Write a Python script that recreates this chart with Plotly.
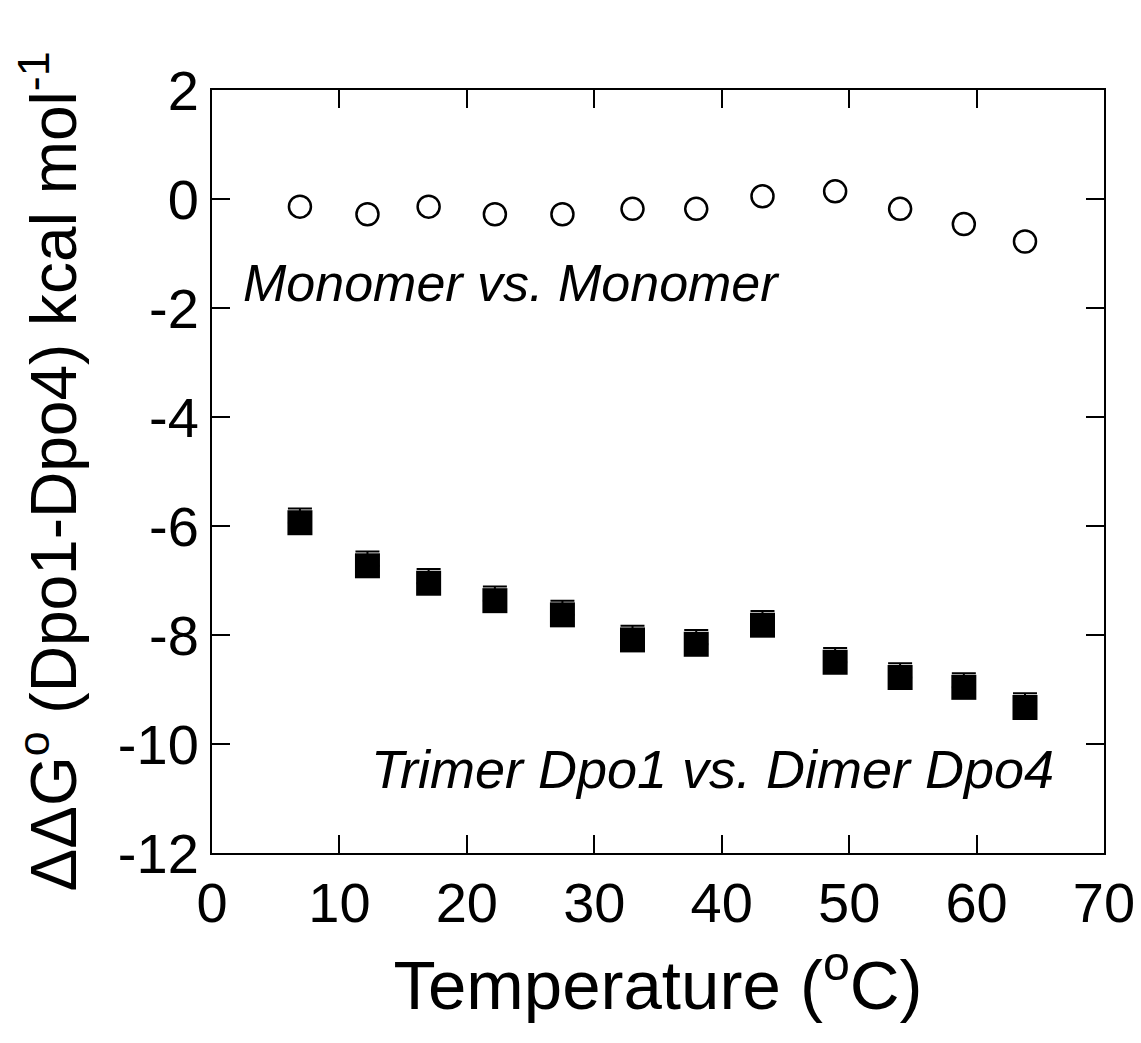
import plotly.graph_objects as go

temperature = [6.9, 12.2, 17.0, 22.2, 27.5, 33.0, 38.0, 43.2, 48.9, 54.0, 59.0, 63.8]
monomer_ddg = [-0.14, -0.28, -0.14, -0.28, -0.28, -0.18, -0.18, 0.05, 0.14, -0.18, -0.46, -0.78]
trimer_ddg = [-5.94, -6.73, -7.05, -7.37, -7.63, -8.09, -8.17, -7.82, -8.50, -8.78, -8.96, -9.33]
trimer_err = [0.26] * 12

x_ticks = [0, 10, 20, 30, 40, 50, 60, 70]
y_ticks = [2, 0, -2, -4, -6, -8, -10, -12]

FONT = "Liberation Sans, Arial, sans-serif"

fig = go.Figure()
fig.add_trace(go.Scatter(
    x=temperature, y=trimer_ddg, mode="markers",
    marker=dict(symbol="square", size=25, color="black", line=dict(width=0)),
    error_y=dict(type="data", symmetric=False, array=trimer_err, arrayminus=[0] * 12,
                 color="black", thickness=2, width=12),
    showlegend=False,
))
fig.add_trace(go.Scatter(
    x=temperature, y=monomer_ddg, mode="markers",
    marker=dict(symbol="circle-open", size=22, color="black", line=dict(width=2.5, color="black")),
    showlegend=False,
))

fig.add_annotation(x=2.3, y=-1.55, xref="x", yref="y", text="<i>Monomer vs. Monomer</i>",
                   showarrow=False, xanchor="left", yanchor="middle",
                   font=dict(family=FONT, size=52, color="black"))
fig.add_annotation(x=12.3, y=-10.46, xref="x", yref="y", text="<i>Trimer Dpo1 vs. Dimer Dpo4</i>",
                   showarrow=False, xanchor="left", yanchor="middle",
                   font=dict(family=FONT, size=54, color="black"))

axis_common = dict(
    showline=True, linecolor="black", linewidth=2, mirror="ticks",
    ticks="inside", ticklen=18, tickwidth=2, tickcolor="black",
    showgrid=False, zeroline=False,
    tickfont=dict(family=FONT, size=56, color="black"),
)

fig.update_xaxes(range=[0, 70], tickvals=x_ticks, ticktext=[str(v) for v in x_ticks],
                 title=dict(text="Temperature (<sup>o</sup>C)", font=dict(family=FONT, size=69, color="black"),
                            standoff=27),
                 **axis_common)
fig.update_yaxes(range=[-12, 2], tickvals=y_ticks, ticktext=[str(v) for v in y_ticks],
                 title=dict(text="ΔΔG<sup>o</sup> (Dpo1-Dpo4) kcal mol<sup>-1</sup>",
                            font=dict(family=FONT, size=64, color="black"), standoff=25),
                 **axis_common)

fig.update_layout(
    width=1141, height=1043,
    margin=dict(l=204, r=45, t=82, b=198, autoexpand=False),
    paper_bgcolor="white", plot_bgcolor="white",
    font=dict(family=FONT, color="black"),
)

fig.write_html("out.html")
